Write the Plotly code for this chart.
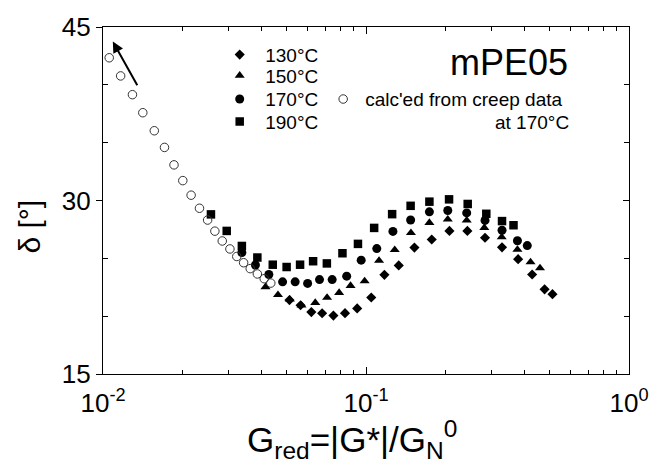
import plotly.graph_objects as go

# ---- data ----
x130 = [0.05117, 0.05638, 0.06197, 0.06811, 0.07518, 0.08322, 0.09257, 0.1047, 0.1175, 0.1332,
        0.1528, 0.1778, 0.2076, 0.2429, 0.2835, 0.3290, 0.3788, 0.4283, 0.4776, 0.5117]
y130 = [21.39, 20.94, 20.35, 20.25, 20.05, 20.26, 20.67, 21.61, 23.57, 24.39,
        25.93, 26.63, 27.37, 27.37, 26.78, 25.95, 24.93, 23.60, 22.32, 21.90]

x150 = [0.04148, 0.04627, 0.0513, 0.05687, 0.06414, 0.07112, 0.07903, 0.08737, 0.09881, 0.1121,
        0.1286, 0.1482, 0.1742, 0.2046, 0.2415, 0.2818, 0.3281, 0.3765, 0.4222, 0.4587]
y150 = [22.52, 21.84, 21.46, 20.94, 21.16, 21.61, 22.03, 22.63, 23.03, 24.80,
        25.73, 27.20, 28.08, 28.37, 28.28, 27.65, 26.84, 25.76, 24.67, 24.16]

x170 = [0.03373, 0.03798, 0.04272, 0.04818, 0.05378, 0.05998, 0.06656, 0.07436, 0.08444, 0.09588,
        0.1099, 0.1266, 0.1478, 0.1742, 0.2046, 0.2415, 0.2835, 0.3290, 0.3765, 0.4104]
y170 = [25.50, 24.42, 23.60, 22.97, 22.97, 22.83, 23.16, 23.16, 23.46, 24.84,
        25.84, 27.33, 28.31, 29.02, 29.14, 28.93, 28.28, 27.43, 26.52, 26.10]

x190 = [0.02573, 0.02954, 0.03373, 0.03863, 0.04421, 0.04991, 0.05615, 0.06293, 0.07099, 0.08137,
        0.0932, 0.1074, 0.1257, 0.1478, 0.1742, 0.2069, 0.2436, 0.2867, 0.3290, 0.3638]
y190 = [28.80, 27.37, 26.07, 25.07, 24.45, 24.25, 24.45, 24.75, 24.56, 25.44,
        26.25, 27.63, 28.82, 29.54, 29.90, 30.10, 29.70, 28.85, 28.22, 27.86]

x_creep = [0.01056, 0.01167, 0.01294, 0.01417, 0.01567, 0.01713, 0.01862, 0.02011, 0.02163, 0.02327,
           0.02499, 0.02663, 0.02841, 0.03038, 0.03226, 0.03425, 0.03629, 0.03863, 0.04102, 0.04345]
y_creep = [42.34, 40.77, 39.15, 37.59, 36.03, 34.59, 33.08, 31.72, 30.46, 29.33,
           28.31, 27.35, 26.50, 25.81, 25.16, 24.62, 24.11, 23.65, 23.24, 22.86]

x_tickvals = [0.01, 0.1, 1]
x_ticktext = ["10<sup>-2</sup>", "10<sup>-1</sup>", "10<sup>0</sup>"]
x_minor = [m * d for d in (0.01, 0.1) for m in range(2, 10)]
y_tickvals = [15, 30, 45]
y_minor = [20, 25, 35, 40]

FONT = "Liberation Sans, Arial, Helvetica, sans-serif"
LEG_FONT = 19

fig = go.Figure()

series = [
    ("130°C", x130, y130, "diamond", 7.8, "legend", 0.920),
    ("150°C", x150, y150, "triangle-up", 8.8, "legend3", 0.860),
    ("170°C", x170, y170, "circle", 9, "legend4", 0.792),
    ("190°C", x190, y190, "square", 8.5, "legend5", 0.727),
]
legends = {}
for name, xs, ys, sym, sz, leg, ly in series:
    fig.add_trace(go.Scatter(x=xs, y=ys, mode="markers", name=name, showlegend=True,
                             marker=dict(symbol=sym, size=sz, color="black", line=dict(width=0)),
                             legend=leg))
    legends[leg] = dict(x=0.2114, y=ly, xanchor="left", yanchor="middle", bgcolor="rgba(0,0,0,0)",
                        font=dict(size=LEG_FONT, family=FONT), itemwidth=41, itemsizing="trace",
                        visible=True)

fig.add_trace(go.Scatter(x=x_creep, y=y_creep, mode="markers", name="calc'ed from creep data",
                         showlegend=True,
                         marker=dict(symbol="circle-open", size=8.5, color="#333333", line=dict(width=1)),
                         legend="legend2"))
legends["legend2"] = dict(x=0.4148, y=0.792, xanchor="left", yanchor="middle", bgcolor="rgba(0,0,0,0)",
                          font=dict(size=LEG_FONT, family=FONT), itemwidth=34, itemsizing="trace",
                          visible=True)

# empty trace to create the mirrored top/right axes
fig.add_trace(go.Scatter(x=[], y=[], xaxis="x2", yaxis="y2", showlegend=False, hoverinfo="skip"))

axis_common = dict(showgrid=False, zeroline=False, linecolor="black", linewidth=1.3,
                   tickcolor="black", tickwidth=1.2)

fig.update_layout(
    width=661, height=463,
    showlegend=True,
    margin=dict(l=102.7, r=22.3, t=22, b=88.7),
    paper_bgcolor="white", plot_bgcolor="white",
    font=dict(family=FONT, color="black"),
    xaxis=dict(type="log", range=[-2, 0], tickvals=x_tickvals, ticktext=x_ticktext,
               ticks="inside", ticklen=7, showline=True,
               tickfont=dict(size=26, family=FONT), ticklabelstandoff=6,
               minor=dict(tickvals=x_minor, ticks="inside", ticklen=4, tickcolor="black", tickwidth=1),
               **axis_common),
    yaxis=dict(range=[15, 45], tickvals=y_tickvals, ticks="outside", ticklen=6, showline=True,
               tickfont=dict(size=26, family=FONT),
               minor=dict(tickvals=y_minor, ticks="inside", ticklen=5, tickcolor="black", tickwidth=1),
               **axis_common),
    xaxis2=dict(type="log", range=[-2, 0], overlaying="x", side="top", anchor="y2",
                tickvals=x_tickvals, ticks="inside", ticklen=7, showticklabels=False, showline=True,
                minor=dict(tickvals=x_minor, ticks="inside", ticklen=4, tickcolor="black", tickwidth=1),
                **axis_common),
    yaxis2=dict(range=[15, 45], overlaying="y", side="right", anchor="x2",
                tickvals=y_tickvals, ticks="inside", ticklen=6, showticklabels=False, showline=True,
                minor=dict(tickvals=y_minor, ticks="inside", ticklen=5, tickcolor="black", tickwidth=1),
                **axis_common),
    annotations=[
        dict(text="mPE05", xref="paper", yref="paper", x=0.887, y=0.898, xanchor="right",
             yanchor="middle", showarrow=False, font=dict(size=36, family=FONT)),
        dict(text="at 170°C", xref="paper", yref="paper", x=0.8905, y=0.726, xanchor="right",
             yanchor="middle", showarrow=False, font=dict(size=LEG_FONT, family=FONT)),
        dict(text="δ [°]", xref="paper", yref="paper", x=-0.1394, y=0.424, xanchor="center",
             yanchor="middle", textangle=-90, showarrow=False, font=dict(size=30, family=FONT)),
        dict(text="G<sub>red</sub>=|G*|/G<sub>N</sub><sup>0</sup>", xref="paper", yref="paper",
             x=0.473, y=-0.19, xanchor="center", yanchor="middle", showarrow=False,
             font=dict(size=35, family=FONT)),
        dict(x=-1.9627, y=43.75, xref="x", yref="y", ax=25.3, ay=45.3, axref="pixel", ayref="pixel",
             text="", showarrow=True, arrowhead=2, arrowsize=1.1, arrowwidth=2, arrowcolor="black"),
    ],
    **legends,
)

fig.write_html("out.html")
